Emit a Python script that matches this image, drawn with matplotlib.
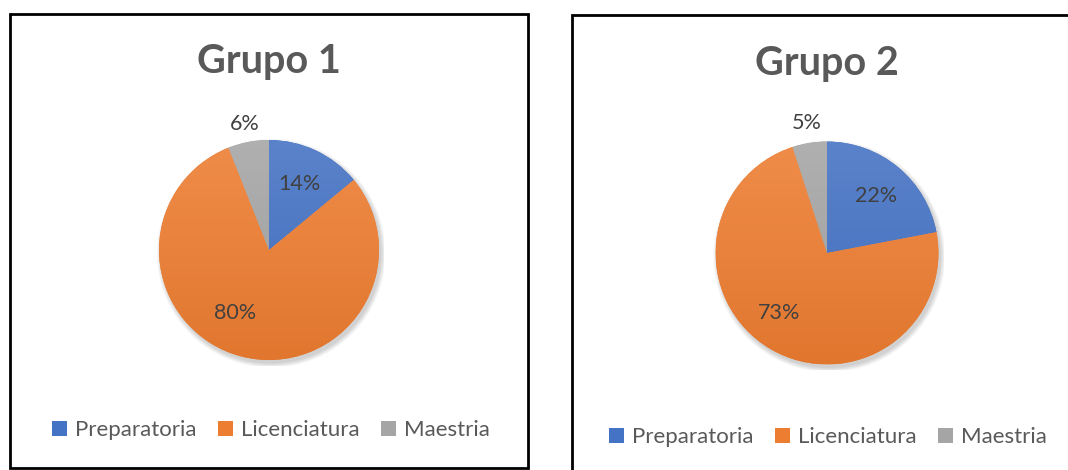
import numpy as np
import matplotlib
matplotlib.use("Agg")
import matplotlib.pyplot as plt
from matplotlib.colors import to_rgb
from matplotlib.patches import Rectangle, Circle, Patch

plt.rcParams['font.family'] = ['Lato', 'DejaVu Sans']

# Data
categories = ["Preparatoria", "Licenciatura", "Maestria"]
grupo1 = [14, 80, 6]
grupo2 = [22, 73, 5]
titles = ["Grupo 1", "Grupo 2"]
colors = ["#4472C4", "#ED7D31", "#A5A5A5"]

W, H = 1068, 470
fig = plt.figure(figsize=(W / 100, H / 100), dpi=100)


def px_axes(cx, cy, r):
    # axes (in pixels from top-left) holding a pie of radius r centred at cx, cy
    return fig.add_axes([(cx - r) / W, 1 - (cy + r) / H, 2 * r / W, 2 * r / H])


def shade(c, f):
    c = np.array(to_rgb(c))
    return tuple(np.clip(c * f if f < 1 else c + (1 - c) * (f - 1), 0, 1))


def draw_pie(ax, values, label_pos):
    # soft shadow
    for k in range(6):
        ax.add_patch(Circle((0.02, -0.03), 1.0 + 0.008 * k, color="black",
                            alpha=0.03, lw=0, zorder=0))
    wedges, _ = ax.pie(values, colors=colors, startangle=90, counterclock=False,
                       radius=1.0, wedgeprops=dict(lw=0))
    for w, c in zip(wedges, colors):
        top, bot = shade(c, 1.12), shade(c, 0.95)
        grad = np.linspace(0, 1, 256)[:, None]
        img = np.array(top)[None, None, :] * (1 - grad[..., None]) + np.array(bot)[None, None, :] * grad[..., None]
        im = ax.imshow(img, extent=[-1, 1, -1, 1], aspect="auto", zorder=2, interpolation="bilinear")
        im.set_clip_path(w)
    for v, (ang, dist) in zip(values, label_pos):
        a = np.deg2rad(ang)
        ax.text(dist * np.cos(a), dist * np.sin(a), f"{v}%", ha="center", va="center",
                fontsize=15.5, color="#404040", zorder=5)
    ax.set_xlim(-1.05, 1.05)
    ax.set_ylim(-1.05, 1.05)
    ax.set_aspect("equal")
    ax.axis("off")


# chart frames
fig.patches.append(Rectangle((10 / W, 1 - 468 / H), 518 / W, 454 / H, transform=fig.transFigure,
                             fill=False, ec="black", lw=2))
fig.patches.append(Rectangle((572 / W, 1 - 480 / H), 520 / W, 465 / H, transform=fig.transFigure,
                             fill=False, ec="black", lw=2, clip_on=False))

ax1 = px_axes(269, 250, 115.5)
draw_pie(ax1, grupo1, [(64.8, 0.66), (-118.7, 0.65), (100.8, 1.17)])
ax2 = px_axes(827, 253, 117)
draw_pie(ax2, grupo2, [(49.3, 0.67), (-128.7, 0.69), (99.0, 1.18)])

fig.text(269 / W, 1 - 62 / H, titles[0], ha="center", va="center", fontsize=28.5,
         fontweight="bold", color="#595959")
fig.text(827 / W, 1 - 63 / H, titles[1], ha="center", va="center", fontsize=28.5,
         fontweight="bold", color="#595959")

handles = [Patch(fc=c, ec="none") for c in colors]
for cx, cy in [(271, 430), (828, 437)]:
    fig.legend(handles, categories, loc="center", bbox_to_anchor=(cx / W, 1 - cy / H),
               ncol=3, frameon=False, fontsize=16, labelcolor="#595959",
               handlelength=0.65, handleheight=0.65, handletextpad=0.35, columnspacing=1.0)

fig.savefig("out.png", dpi=100)
